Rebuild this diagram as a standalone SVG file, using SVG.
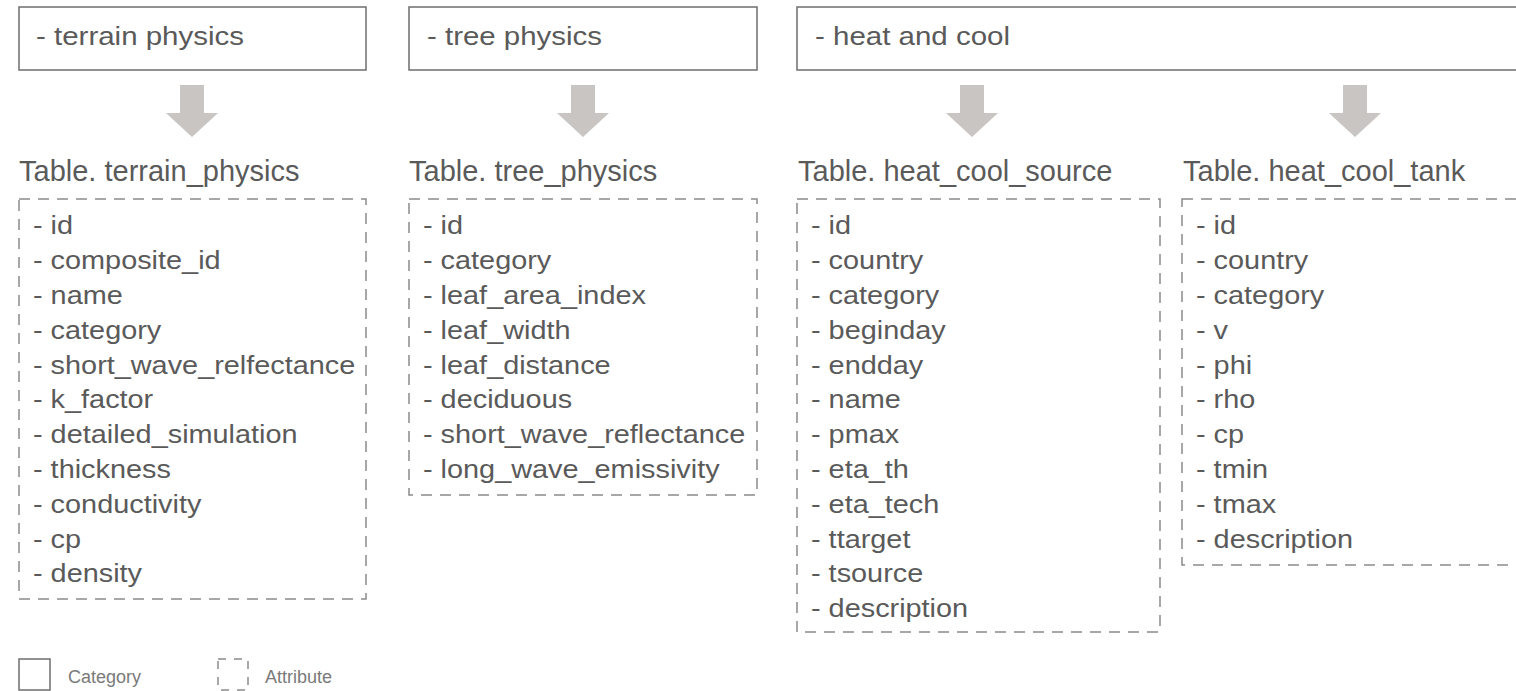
<svg xmlns="http://www.w3.org/2000/svg" width="1516" height="691" viewBox="0 0 1516 691">
<style>
.cat{fill:#fff;stroke:#6e6e6e;stroke-width:1.5}
.att{fill:none;stroke:#8a8a8a;stroke-width:1.5;stroke-dasharray:11 8}
.t{font-family:"Liberation Sans",Arial,sans-serif;fill:#5a5a5a}
.ct{font-size:26px}
.tt{font-size:29px}
.at{font-size:26px}
.lg{font-family:"Liberation Sans",Arial,sans-serif;font-size:18px;fill:#7a7a7a}
.arr{fill:#c8c5c2}
</style>
<defs>
<path id="arrow" d="M-12,0 H12 V28 H26 L0,52 L-26,28 H-12 Z"/>
</defs>
<rect width="1516" height="691" fill="#fff"/>

<g id="cat-terrain">
<rect class="cat" x="19" y="7" width="347" height="63"/>
<text class="t ct" x="36" y="45" textLength="208" lengthAdjust="spacingAndGlyphs">- terrain physics</text>
</g>
<g id="cat-tree">
<rect class="cat" x="409" y="7" width="348" height="63"/>
<text class="t ct" x="427" y="45" textLength="175" lengthAdjust="spacingAndGlyphs">- tree physics</text>
</g>
<g id="cat-heat">
<rect class="cat" x="797" y="7" width="730" height="63"/>
<text class="t ct" x="815" y="45" textLength="195" lengthAdjust="spacingAndGlyphs">- heat and cool</text>
</g>

<g id="connectors">
<use href="#arrow" class="arr" x="192" y="85"/>
<use href="#arrow" class="arr" x="583" y="85"/>
<use href="#arrow" class="arr" x="972" y="85"/>
<use href="#arrow" class="arr" x="1355" y="85"/>
</g>

<g id="table-terrain">
<text class="t tt" x="19" y="181">Table. terrain_physics</text>
<rect class="att" x="19" y="199" width="347" height="400"/>
<g class="t at" transform="translate(33,0) scale(1.11,1)">
<text x="0" y="234">- id</text>
<text x="0" y="269">- composite_id</text>
<text x="0" y="304">- name</text>
<text x="0" y="339">- category</text>
<text x="0" y="374">- short_wave_relfectance</text>
<text x="0" y="408">- k_factor</text>
<text x="0" y="443">- detailed_simulation</text>
<text x="0" y="478">- thickness</text>
<text x="0" y="513">- conductivity</text>
<text x="0" y="548">- cp</text>
<text x="0" y="582">- density</text>
</g>
</g>

<g id="table-tree">
<text class="t tt" x="409" y="181">Table. tree_physics</text>
<rect class="att" x="409" y="199" width="348" height="296"/>
<g class="t at" transform="translate(423,0) scale(1.11,1)">
<text x="0" y="234">- id</text>
<text x="0" y="269">- category</text>
<text x="0" y="304">- leaf_area_index</text>
<text x="0" y="339">- leaf_width</text>
<text x="0" y="374">- leaf_distance</text>
<text x="0" y="408">- deciduous</text>
<text x="0" y="443">- short_wave_reflectance</text>
<text x="0" y="478">- long_wave_emissivity</text>
</g>
</g>

<g id="table-source">
<text class="t tt" x="798" y="181">Table. heat_cool_source</text>
<rect class="att" x="797" y="199" width="363" height="433"/>
<g class="t at" transform="translate(811,0) scale(1.11,1)">
<text x="0" y="234">- id</text>
<text x="0" y="269">- country</text>
<text x="0" y="304">- category</text>
<text x="0" y="339">- beginday</text>
<text x="0" y="374">- endday</text>
<text x="0" y="408">- name</text>
<text x="0" y="443">- pmax</text>
<text x="0" y="478">- eta_th</text>
<text x="0" y="513">- eta_tech</text>
<text x="0" y="548">- ttarget</text>
<text x="0" y="582">- tsource</text>
<text x="0" y="617">- description</text>
</g>
</g>

<g id="table-tank">
<text class="t tt" x="1183" y="181">Table. heat_cool_tank</text>
<rect class="att" x="1182" y="199" width="360" height="366"/>
<g class="t at" transform="translate(1196,0) scale(1.11,1)">
<text x="0" y="234">- id</text>
<text x="0" y="269">- country</text>
<text x="0" y="304">- category</text>
<text x="0" y="339">- v</text>
<text x="0" y="374">- phi</text>
<text x="0" y="408">- rho</text>
<text x="0" y="443">- cp</text>
<text x="0" y="478">- tmin</text>
<text x="0" y="513">- tmax</text>
<text x="0" y="548">- description</text>
</g>
</g>

<g id="legend">
<rect class="cat" x="19" y="659" width="31" height="31"/>
<text class="lg" x="68" y="683">Category</text>
<rect class="att" x="218" y="659" width="30" height="31" style="stroke-dasharray:8 8"/>
<text class="lg" x="265" y="683">Attribute</text>
</g>
</svg>
